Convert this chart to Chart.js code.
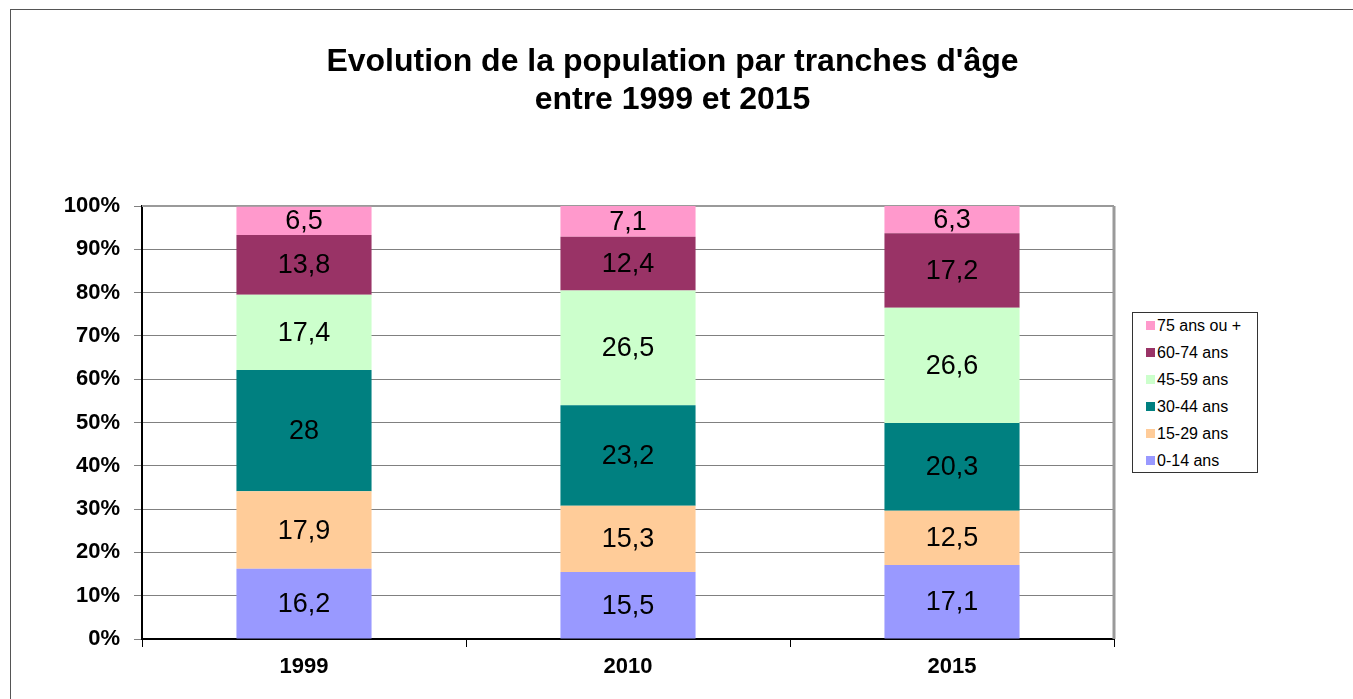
<!DOCTYPE html>
<html>
<head>
<meta charset="utf-8">
<script src="https://cdn.jsdelivr.net/npm/chart.js@4/dist/chart.umd.min.js"></script>
<style>
  body { margin: 0; background: #fff; font-family: "Liberation Sans", Arial, sans-serif; }
  #wrap { position: relative; width: 1353px; height: 699px; overflow: hidden; }
  #frame { position: absolute; left: 10px; top: 9px; width: 1400px; height: 800px; border: 1px solid #555; }
  #title { position: absolute; left: 0; width: 1345px; top: 41px; text-align: center;
           font-weight: bold; font-size: 32px; line-height: 38px; color: #000; }
  #legend { position: absolute; left: 1132px; top: 312px; width: 124px; height: 159px;
            border: 1px solid #333; background: #fff; font-size: 16px; }
  #legend div { position: absolute; left: 13px; height: 18px; line-height: 18px; white-space: nowrap; }
  #legend span { display: inline-block; width: 9px; height: 9px; margin-right: 2px; vertical-align: 1px; }
  canvas { position: absolute; left: 0; top: 0; }
</style>
</head>
<body>
<div id="wrap">
  <div id="frame"></div>
  <canvas id="ageChart" width="1353" height="699"></canvas>
  <div id="title">Evolution de la population par tranches d'âge<br>entre 1999 et 2015</div>
  <div id="legend"></div>
</div>
<script>
const years = ["1999", "2010", "2015"];
const groups = ["0-14 ans", "15-29 ans", "30-44 ans", "45-59 ans", "60-74 ans", "75 ans ou +"];
const colors = ["#9999FF", "#FFCC99", "#008080", "#CCFFCC", "#993366", "#FF99CC"];
const age0_14 = [16.2, 15.5, 17.1];
const age15_29 = [17.9, 15.3, 12.5];
const age30_44 = [28, 23.2, 20.3];
const age45_59 = [17.4, 26.5, 26.6];
const age60_74 = [13.8, 12.4, 17.2];
const age75plus = [6.5, 7.1, 6.3];
const yTicks = [0, 10, 20, 30, 40, 50, 60, 70, 80, 90, 100];

const series = [age0_14, age15_29, age30_44, age45_59, age60_74, age75plus];
const font = '"Liberation Sans", Arial, sans-serif';

const datasets = series.map((data, i) => ({
  label: groups[i],
  data: data,
  backgroundColor: colors[i],
  borderWidth: 0,
  barPercentage: 0.417,
  categoryPercentage: 1,
}));

// values written inside each segment
const segmentLabels = {
  id: "segmentLabels",
  afterDatasetsDraw(chart) {
    const ctx = chart.ctx;
    ctx.save();
    ctx.font = "27px " + font;
    ctx.fillStyle = "#000";
    ctx.textAlign = "center";
    ctx.textBaseline = "middle";
    chart.data.datasets.forEach((ds, i) => {
      chart.getDatasetMeta(i).data.forEach((bar, j) => {
        const y = (bar.y + bar.base) / 2;
        ctx.fillText(String(ds.data[j]).replace(".", ","), bar.x, y + 1);
      });
    });
    ctx.restore();
  },
};

// gray top/right border of the plot area
const plotBorder = {
  id: "plotBorder",
  beforeDatasetsDraw(chart) {
    const { ctx, chartArea: a } = chart;
    ctx.save();
    ctx.strokeStyle = "#9a9a9a";
    ctx.lineWidth = 2;
    ctx.beginPath();
    ctx.moveTo(a.left, a.top);
    ctx.lineTo(a.right, a.top);
    ctx.stroke();
    ctx.lineWidth = 3;
    ctx.beginPath();
    ctx.moveTo(a.right, a.top);
    ctx.lineTo(a.right, a.bottom);
    ctx.stroke();
    ctx.restore();
  },
};

new Chart(document.getElementById("ageChart").getContext("2d"), {
  type: "bar",
  data: { labels: years, datasets: datasets },
  options: {
    responsive: false,
    animation: false,
    layout: { padding: { left: 0, right: 239, top: 206, bottom: 0 } },
    plugins: { legend: { display: false }, tooltip: { enabled: false } },
    scales: {
      x: {
        stacked: true,
        afterFit: (s) => { s.height = 60; },
        grid: { offset: true, drawOnChartArea: false, drawTicks: true, tickLength: 8, color: "#000" },
        border: { color: "#000", width: 2 },
        ticks: { padding: 7, color: "#000", font: { family: font, size: 22, weight: "bold" } },
      },
      y: {
        stacked: true,
        min: 0,
        max: 100,
        afterFit: (s) => { s.width = 142; },
        afterBuildTicks: (s) => { s.ticks = yTicks.map((v) => ({ value: v })); },
        grid: { color: "#808080", tickLength: 8 },
        border: { color: "#000", width: 2 },
        ticks: {
          padding: 14,
          color: "#000",
          font: { family: font, size: 22, weight: "bold" },
          callback: (v) => v + "%",
        },
      },
    },
  },
  plugins: [plotBorder, segmentLabels],
});

// legend, top item = last series
const legend = document.getElementById("legend");
groups.slice().reverse().forEach((g, k) => {
  const i = groups.length - 1 - k;
  const row = document.createElement("div");
  row.style.top = (4 + k * 27) + "px";
  row.innerHTML = '<span style="background:' + colors[i] + '"></span>' + g;
  legend.appendChild(row);
});
</script>
</body>
</html>
